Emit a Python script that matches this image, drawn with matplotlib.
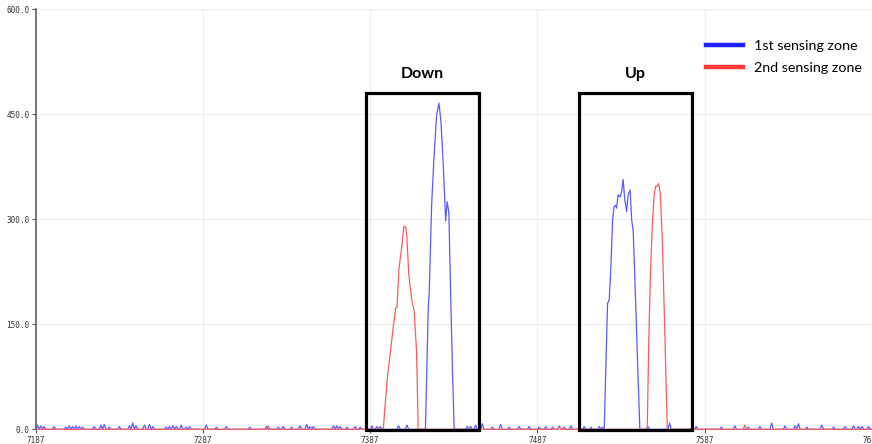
import matplotlib
matplotlib.use("Agg")
import matplotlib.pyplot as plt
from matplotlib.lines import Line2D
from matplotlib.patches import Rectangle

# Serial-plotter style capture of two sensing zones (sample index vs reading).
X_START, X_END = 7187, 7687
X_TICKS = [7187, 7287, 7387, 7487, 7587, 7687]
Y_TICKS = [0, 150, 300, 450, 600]
LABELS = ["1st sensing zone", "2nd sensing zone"]

# Peaks
BLUE_DOWN_X = [7420, 7421.7, 7422.3, 7423.7, 7425.1, 7426.7, 7428.1, 7429.3,
               7430.6, 7432.1, 7433.0, 7434.0, 7435.2, 7436.3, 7437.2]
BLUE_DOWN_Y = [0, 173, 197, 320, 387, 449, 466, 439, 382, 298, 325, 311, 182, 73, 0]
BLUE_UP_X = [7526.9, 7528.9, 7529.9, 7530.9, 7531.9, 7532.8, 7533.7, 7534.3,
             7535.2, 7536.4, 7537.3, 7538.2, 7539.2, 7540.3, 7541.2, 7542.4,
             7543.3, 7544.2, 7545.6, 7546.8, 7548.2]
BLUE_UP_Y = [0, 180, 185, 232, 299, 318, 320, 316, 335, 332, 339, 357, 328, 311,
             335, 342, 299, 285, 189, 99, 0]
RED_DOWN_X = [7394.8, 7397.2, 7398.8, 7400.7, 7402.2, 7403, 7404.2, 7405.8,
              7407.1, 7408.2, 7408.8, 7410.1, 7411.7, 7413.3, 7414.7, 7415.7]
RED_DOWN_Y = [0, 73, 106, 144, 173, 174, 230, 259, 290, 289, 278, 220, 187, 168, 111, 0]
RED_UP_X = [7552.6, 7553.6, 7554.6, 7555.8, 7556.8, 7557.6, 7558.6, 7559.4,
            7560.4, 7561.6, 7563.2, 7564.6]
RED_UP_Y = [0, 132, 228, 299, 335, 347, 347, 351, 337, 275, 132, 0]

# Small noise blips on the baseline
BLUE_BLIP_X = [7188, 7190, 7192, 7198, 7205, 7207, 7209, 7211, 7213, 7215, 7222,
               7226, 7228, 7231, 7237, 7243, 7245, 7247, 7252, 7255, 7257, 7265,
               7267, 7269, 7271, 7274, 7277, 7279, 7289, 7295, 7301, 7315, 7325,
               7332, 7335, 7340, 7345, 7349, 7351, 7353, 7365, 7367, 7369, 7373,
               7378, 7381, 7388, 7391, 7393, 7404, 7409, 7445, 7447, 7450, 7454,
               7460, 7465, 7470, 7476, 7482, 7488, 7492, 7496, 7500, 7503, 7507,
               7515, 7519, 7524, 7526, 7553, 7566, 7582, 7597, 7605, 7613, 7620,
               7627, 7635, 7641, 7643, 7648, 7657, 7664, 7671, 7676, 7679, 7681, 7685]
BLUE_BLIP_Y = [6, 5, 4, 4, 3, 5, 4, 5, 4, 3, 4,
               6, 7, 3, 4, 5, 9, 5, 6, 7, 4, 3,
               4, 5, 4, 6, 3, 4, 6, 3, 4, 3, 4,
               3, 4, 3, 5, 7, 4, 4, 5, 5, 4, 3,
               4, 3, 5, 4, 4, 5, 6, 4, 4, 6, 8,
               3, 7, 3, 4, 4, 3, 4, 3, 5, 3, 5,
               4, 3, 4, 3, 4, 9, 4, 3, 5, 3, 4,
               9, 5, 5, 8, 3, 6, 3, 4, 5, 4, 4, 4]
RED_BLIP_X = [7326, 7500, 7611]
RED_BLIP_Y = [5, 4, 6]

# Annotated zones: (label, left, right)
ZONE_NAMES = ["Down", "Up"]
ZONE_LEFT = [7384.4, 7511.9]
ZONE_RIGHT = [7452.2, 7579.3]
ZONE_TOP = 481


def build_series(blip_x, blip_y, segments):
    # one reading per sample, zero unless a blip or a peak was read there
    pts = {x: 0.0 for x in range(X_START, X_END + 1)}
    for x, y in zip(blip_x, blip_y):
        pts[x] = y
    for sx, sy in segments:
        for x in list(pts):
            if sx[0] <= x <= sx[-1]:
                del pts[x]
        pts.update(zip(sx, sy))
    xs = sorted(pts)
    return xs, [pts[x] for x in xs]


blue_x, blue_y = build_series(BLUE_BLIP_X, BLUE_BLIP_Y,
                              [(BLUE_DOWN_X, BLUE_DOWN_Y), (BLUE_UP_X, BLUE_UP_Y)])
red_x, red_y = build_series(RED_BLIP_X, RED_BLIP_Y,
                            [(RED_DOWN_X, RED_DOWN_Y), (RED_UP_X, RED_UP_Y)])

fig = plt.figure(figsize=(8.72, 4.44), dpi=100)
ax = fig.add_axes([35.7 / 872, 14.7 / 444, 1 - 35.7 / 872, 420 / 444])

ax.plot(blue_x, blue_y, color="#5a5aff", lw=0.9, clip_on=False, zorder=2)
ax.plot(red_x, red_y, color="#ff5a5a", lw=0.9, clip_on=False, zorder=2)

for name, left, right in zip(ZONE_NAMES, ZONE_LEFT, ZONE_RIGHT):
    ax.add_patch(Rectangle((left, -1), right - left, ZONE_TOP + 1, fill=False,
                           ec="black", lw=2.3, clip_on=False, zorder=3))
    ax.text((left + right) / 2, 508, name, ha="center", va="center",
            fontsize=11.5, fontweight="bold", family="Lato")

ax.set_xlim(X_START, X_END)
ax.set_ylim(0, 600)
ax.set_xticks(X_TICKS)
ax.set_xticklabels([str(t) for t in X_TICKS])
ax.set_yticks(Y_TICKS)
ax.set_yticklabels([f"{t:.1f}" for t in Y_TICKS])
ax.tick_params(axis="both", length=3, width=0.8, color="#555555", pad=1.5,
               labelsize=5.5, labelcolor="#333333")
for lab in ax.get_xticklabels() + ax.get_yticklabels():
    lab.set_family("DejaVu Sans Mono")
ax.grid(color="#eeeeee", lw=0.8)
ax.set_axisbelow(True)
for side in ["top", "right", "bottom"]:
    ax.spines[side].set_visible(False)
ax.spines["left"].set_color("#555555")
ax.spines["left"].set_linewidth(1.1)

handles = [Line2D([], [], color="#2020ff", lw=3.2),
           Line2D([], [], color="#ff3838", lw=3.2)]
fig.legend(handles, LABELS, loc="upper left", bbox_to_anchor=(693 / 872, 1 - 27 / 444),
           frameon=False, prop={"family": "Lato", "size": 10.3},
           handlelength=2.6, handletextpad=0.75, labelspacing=0.7)

fig.savefig("out.png", dpi=100)
